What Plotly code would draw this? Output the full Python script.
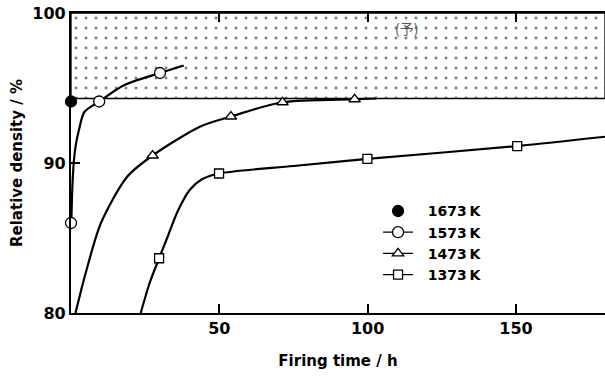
import plotly.graph_objects as go

# ---- data ----
t_1673 = [0]
d_1673 = [94.1]

t_1573 = [0, 9.5, 30]
d_1573 = [86.0, 94.1, 96.0]
curve_t_1573 = [0.1, 0.5, 1.0, 1.7, 2.8, 4.5, 9.5, 18, 30, 38]
curve_d_1573 = [86.0, 88.6, 90.2, 91.3, 92.3, 93.4, 94.1, 95.2, 96.0, 96.5]

t_1473 = [27.5, 53.9, 71.3, 95.6]
d_1473 = [90.5, 93.1, 94.05, 94.25]
curve_t_1473 = [1.5, 3.4, 5.0, 10.1, 19, 27.5, 43.8, 53.9, 71.3, 95.6, 103]
curve_d_1473 = [80.0, 81.5, 82.7, 86.0, 89.1, 90.5, 92.45, 93.1, 94.05, 94.25, 94.3]

t_1373 = [29.7, 49.9, 99.9, 150.4]
d_1373 = [83.65, 89.3, 90.27, 91.13]
curve_t_1373 = [23.5, 26.5, 29.7, 32.5, 36, 40, 44, 49.9, 75, 99.9, 150.4, 180]
curve_d_1373 = [80.0, 82.0, 83.65, 85.05, 86.8, 88.2, 88.9, 89.3, 89.8, 90.27, 91.13, 91.75]

shade_t = [0, 180, 180, 0, 0]
shade_d = [94.3, 94.3, 100, 100, 94.3]

labels = ["1673\u2009K", "1573\u2009K", "1473\u2009K", "1373\u2009K"]

x_ticks = [50, 100, 150]
y_ticks = [80, 90, 100]

FONT = "DejaVu Sans"
fig = go.Figure()

# stippled region
fig.add_trace(go.Scatter(
    x=shade_t, y=shade_d, mode="lines", fill="toself",
    fillcolor="white",
    fillpattern=dict(shape=".", fgcolor="black", bgcolor="white", size=10, solidity=0.07),
    line=dict(color="black", width=1.3), showlegend=False, hoverinfo="skip"))

# curves
for ct, cd in [(curve_t_1573, curve_d_1573), (curve_t_1473, curve_d_1473),
               (curve_t_1373, curve_d_1373)]:
    fig.add_trace(go.Scatter(
        x=ct, y=cd, mode="lines", line=dict(color="black", width=2.2, shape="spline", smoothing=0.8),
        showlegend=False, hoverinfo="skip"))

# markers: (x, y, symbol, fill colour, size)
series = [
    (t_1673, d_1673, "circle", "black", 11),
    (t_1573, d_1573, "circle", "white", 11),
    (t_1473, d_1473, "triangle-up", "white", 10),
    (t_1373, d_1373, "square", "white", 9),
]
for (t, d, sym, fc, sz) in series:
    fig.add_trace(go.Scatter(
        x=t, y=d, mode="markers", cliponaxis=False,
        marker=dict(symbol=sym, color=fc, size=sz, line=dict(color="black", width=1.3)),
        showlegend=False))

# legend entries
for i, (t, d, sym, fc, sz) in enumerate(series):
    fig.add_trace(go.Scatter(
        x=[None], y=[None], mode="markers" if i == 0 else "lines+markers",
        name="\u2002\u2009" + labels[i],
        line=dict(color="black", width=1.3),
        marker=dict(symbol=sym, color=fc, size=sz, line=dict(color="black", width=1.3))))

fig.add_annotation(x=113, y=99.0, text="(予)", showarrow=False,
                   font=dict(family="Noto Sans CJK JP", size=14, color="#555"))

fig.update_layout(
    width=605, height=377,
    margin=dict(l=71, r=0, t=13, b=64),
    paper_bgcolor="white", plot_bgcolor="white",
    font=dict(family=FONT, color="black"),
    showlegend=True,
    legend=dict(x=0.575, y=0.392, xanchor="left", yanchor="top",
                font=dict(family=FONT, size=14, weight=700, color="black"),
                bgcolor="rgba(0,0,0,0)", itemwidth=30, tracegroupgap=0),
    xaxis=dict(range=[0, 180], tickvals=x_ticks, ticks="inside", ticklen=9, tickwidth=1.5,
               tickcolor="black", showline=True, linecolor="black", linewidth=2, mirror="ticks",
               showgrid=False, zeroline=False,
               tickfont=dict(family=FONT, size=16, weight=700),
               title=dict(text="Firing time / h", font=dict(family=FONT, size=15, weight=700), standoff=18)),
    yaxis=dict(range=[80, 100], tickvals=y_ticks, ticks="inside", ticklen=9, tickwidth=1.5,
               tickcolor="black", showline=True, linecolor="black", linewidth=2.2, mirror=False,
               showgrid=False, zeroline=False,
               tickfont=dict(family=FONT, size=16, weight=700),
               title=dict(text="Relative density / %", font=dict(family=FONT, size=15, weight=700), standoff=6)),
)

fig.write_html("out.html")
